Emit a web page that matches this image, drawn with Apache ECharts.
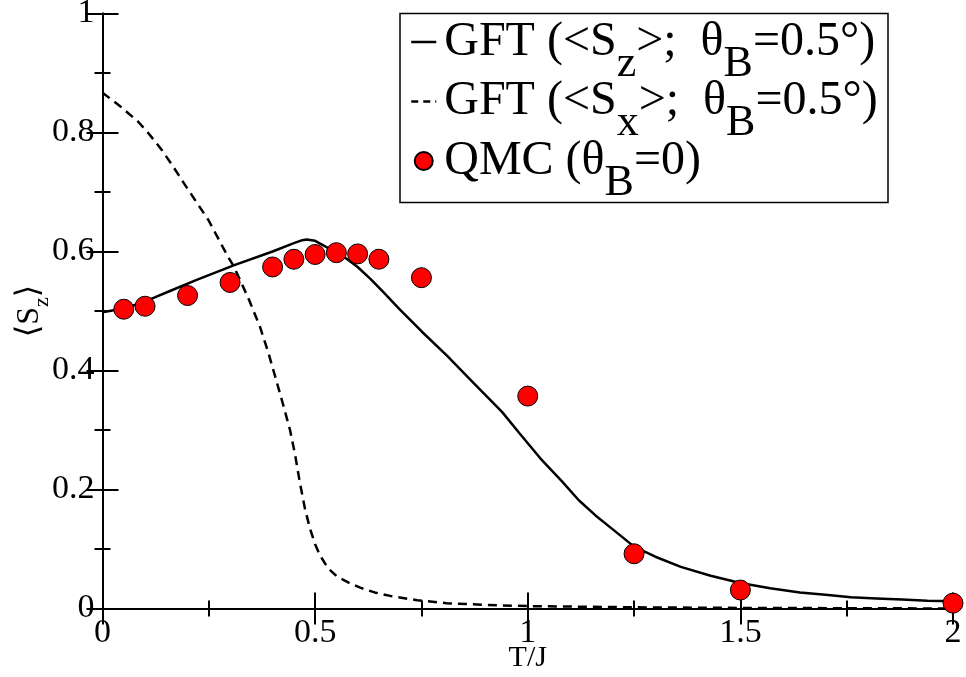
<!DOCTYPE html>
<html><head><meta charset="utf-8">
<script src="https://cdn.jsdelivr.net/npm/echarts@6/dist/echarts.min.js"></script>
<style>html,body{margin:0;padding:0;background:#fff}#c{width:966px;height:677px}</style>
</head><body><div id="c"></div>
<script>
// QMC data (theta_B = 0)
const qmcT  = [0.05, 0.10, 0.20, 0.30, 0.40, 0.45, 0.50, 0.55, 0.60, 0.65, 0.75, 1.00, 1.25, 1.50, 2.00];
const qmcSz = [0.503, 0.508, 0.526, 0.548, 0.574, 0.587, 0.595, 0.598, 0.596, 0.587, 0.556, 0.357, 0.092, 0.031, 0.009];
// GFT <Sz>, theta_B = 0.5 deg
const gftSzT = [0, 0.04, 0.08, 0.12, 0.16, 0.22, 0.31, 0.40, 0.45, 0.47, 0.48, 0.50, 0.53, 0.57, 0.60, 0.63, 0.66, 0.70, 0.75, 0.81, 0.87, 0.94, 0.98, 1.03, 1.08, 1.12, 1.16, 1.20, 1.25, 1.30, 1.36, 1.43, 1.50, 1.57, 1.64, 1.70, 1.76, 1.82, 1.88, 1.94, 2.00];
const gftSz  = [0.498, 0.503, 0.511, 0.522, 0.534, 0.552, 0.577, 0.600, 0.614, 0.619, 0.620, 0.618, 0.606, 0.590, 0.574, 0.554, 0.532, 0.502, 0.466, 0.425, 0.381, 0.330, 0.295, 0.252, 0.214, 0.182, 0.156, 0.133, 0.104, 0.087, 0.070, 0.055, 0.043, 0.034, 0.027, 0.023, 0.019, 0.017, 0.015, 0.013, 0.012];
// GFT <Sx>, theta_B = 0.5 deg
const gftSxT = [0, 0.04, 0.084, 0.11, 0.139, 0.165, 0.194, 0.22, 0.249, 0.275, 0.296, 0.307, 0.323, 0.345, 0.37, 0.39, 0.41, 0.425, 0.441, 0.453, 0.464, 0.476, 0.488, 0.50, 0.511, 0.53, 0.551, 0.58, 0.606, 0.64, 0.684, 0.74, 0.809, 0.9, 1.0, 1.25, 1.5, 2.0];
const gftSx  = [0.867, 0.845, 0.818, 0.797, 0.771, 0.744, 0.712, 0.684, 0.653, 0.618, 0.590, 0.577, 0.553, 0.518, 0.474, 0.430, 0.380, 0.342, 0.300, 0.258, 0.212, 0.168, 0.134, 0.108, 0.090, 0.068, 0.054, 0.043, 0.035, 0.027, 0.020, 0.014, 0.009, 0.006, 0.004, 0.002, 0.001, 0.000];

const xMin = 0, xMax = 2, xStep = 0.5;
const yMin = 0, yMax = 1, yStep = 0.2;

const serif = "'Liberation Serif','DejaVu Serif',serif";
const zip = (a, b) => a.map((v, i) => [v, b[i]]);

const legendNames = {
  sz: '{m|GFT (<S}{s|z}{m|>;  θ}{s|B}{m|=0.5°)}',
  sx: '{m|GFT (<S}{s|x}{m|>;  θ}{s|B}{m|=0.5°)}',
  qmc: '{m|QMC (θ}{s|B}{m|=0)}'
};

function mkX(pos, show) {
  return {
    type: 'value', min: xMin, max: xMax, interval: xStep, position: pos,
    axisLine: {show: true, lineStyle: {color: '#000', width: 2}},
    axisTick: {show: true, inside: true, length: 16, lineStyle: {color: '#000', width: 2}},
    minorTick: {show: true, splitNumber: 2, length: 8, lineStyle: {color: '#000', width: 2}},
    splitLine: {show: false}, minorSplitLine: {show: false},
    axisLabel: {show: show, fontSize: 34, fontFamily: serif, color: '#000', margin: 8},
    name: show ? 'T/J' : '', nameLocation: 'middle', nameGap: 35, nameMoveOverlap: false,
    nameTextStyle: {fontSize: 30, fontFamily: serif, color: '#000'}
  };
}
function mkY(pos, show) {
  return {
    type: 'value', min: yMin, max: yMax, interval: yStep, position: pos,
    axisLine: {show: true, lineStyle: {color: '#000', width: 2}},
    axisTick: {show: true, inside: true, length: 16, lineStyle: {color: '#000', width: 2}},
    minorTick: {show: true, splitNumber: 2, length: 8, lineStyle: {color: '#000', width: 2}},
    splitLine: {show: false}, minorSplitLine: {show: false},
    axisLabel: {show: show, fontSize: 34, fontFamily: serif, color: '#000', margin: 8},
    name: show ? '{b|⟨S}{s|z}{b|⟩}' : '', nameLocation: 'middle', nameGap: 57, nameRotate: 90,
    nameMoveOverlap: false,
    nameTextStyle: {
      color: '#000', fontFamily: serif,
      rich: {
        b: {fontSize: 32, lineHeight: 32, fontFamily: serif, color: '#000'},
        s: {fontSize: 22, lineHeight: 22, padding: [26, 0, 0, 0], fontFamily: serif, color: '#000'}
      }
    }
  };
}

const chart = echarts.init(document.getElementById('c'), null, {renderer: 'canvas'});
chart.setOption({
  animation: false,
  backgroundColor: '#fff',
  grid: {left: 102.5, right: 13, top: 13.5, bottom: 68.5, containLabel: false, outerBoundsMode: 'none'},
  xAxis: [mkX('bottom', true), mkX('top', false)],
  yAxis: [mkY('left', true), mkY('right', false)],
  graphic: [{
    type: 'rect', shape: {x: 400, y: 13.5, width: 488, height: 189},
    style: {fill: 'rgba(0,0,0,0)', stroke: '#000', lineWidth: 1.5}, z: 10
  }],
  legend: {
    orient: 'vertical', left: 410, top: -2, padding: 0,
    itemWidth: 25, itemHeight: 18, itemGap: -28.5, selectedMode: false,
    data: [
      {name: 'sz', itemStyle: {color: 'rgba(0,0,0,0)', borderColor: 'rgba(0,0,0,0)', borderWidth: 0},
       lineStyle: {color: '#000', width: 2.5, type: 'solid'}},
      {name: 'sx', itemStyle: {color: 'rgba(0,0,0,0)', borderColor: 'rgba(0,0,0,0)', borderWidth: 0},
       lineStyle: {color: '#000', width: 2.5, type: [7, 5]}},
      {name: 'qmc'}
    ],
    formatter: n => legendNames[n],
    textStyle: {
      color: '#000', fontFamily: serif, padding: [0, 0, 0, 3],
      rich: {
        m: {fontSize: 48, lineHeight: 48, fontFamily: serif, color: '#000'},
        s: {fontSize: 44, lineHeight: 44, padding: [44, 0, 0, 0], fontFamily: serif, color: '#000'}
      }
    }
  },
  series: [
    {name: 'sz', type: 'line', data: zip(gftSzT, gftSz), symbol: 'none', showSymbol: false,
     lineStyle: {color: '#000', width: 2.5}, itemStyle: {color: '#000'}, z: 3},
    {name: 'sx', type: 'line', data: zip(gftSxT, gftSx), symbol: 'none', showSymbol: false,
     lineStyle: {color: '#000', width: 2.5, type: [9, 6]}, itemStyle: {color: '#000'}, z: 3},
    {name: 'qmc', type: 'scatter', data: zip(qmcT, qmcSz), symbol: 'circle', symbolSize: 20,
     itemStyle: {color: '#ff0000', borderColor: '#000', borderWidth: 1, opacity: 1}, z: 5}
  ]
});
</script>
</body></html>
